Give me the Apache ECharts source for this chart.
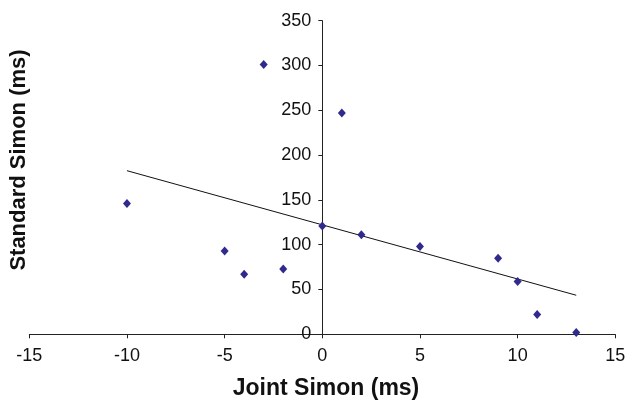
<!DOCTYPE html>
<html>
<head>
<meta charset="utf-8">
<script src="https://cdn.jsdelivr.net/npm/echarts@6/dist/echarts.min.js"></script>
<style>html,body{margin:0;padding:0;background:#fff;}#c{width:630px;height:404px;}</style>
</head>
<body>
<div id="c"></div>
<script>
var jointSimon = [-10, -5, -4, -3, -2, 0, 1, 2, 5, 9, 10, 11, 13];
var standardSimon = [146, 93, 67, 301, 73, 121, 247, 111, 98, 85, 59, 22, 2];
var trendX = [-10, 13];
var trendY = [182.6, 43.6];
var xTicks = [-15, -10, -5, 0, 5, 10, 15];
var yTicks = [0, 50, 100, 150, 200, 250, 300, 350];
var xTitle = 'Joint Simon (ms)';
var yTitle = 'Standard Simon (ms)';

var pts = jointSimon.map(function (x, i) { return [x, standardSimon[i]]; });
var trend = trendX.map(function (x, i) { return [x, trendY[i]]; });

var gridLeft = 29.3, gridRight = 14.7;
var gridW = 630 - gridLeft - gridRight;
var xMin = xTicks[0], xMax = xTicks[xTicks.length - 1];
// place the y axis where x = 0
var yAxisOffset = -gridW * (0 - xMin) / (xMax - xMin);

var chart = echarts.init(document.getElementById('c'), null, {renderer: 'canvas'});
var font = '"Liberation Sans", Arial, sans-serif';
chart.setOption({
  animation: false,
  backgroundColor: '#fff',
  grid: {left: gridLeft, right: gridRight, top: 20.7, bottom: 69.7, containLabel: false, outerBoundsMode: 'none'},
  xAxis: {
    type: 'value', min: xMin, max: xMax, interval: 5,
    axisLine: {onZero: false, lineStyle: {color: '#222', width: 1}},
    axisTick: {show: true, length: 4, lineStyle: {color: '#222'}},
    axisLabel: {fontSize: 18, color: '#111', margin: 13, fontFamily: font},
    splitLine: {show: false}
  },
  yAxis: {
    type: 'value', min: yTicks[0], max: yTicks[yTicks.length - 1], interval: 50,
    position: 'left', offset: yAxisOffset,
    axisLine: {onZero: false, lineStyle: {color: '#222', width: 1}},
    axisTick: {show: true, length: 4, lineStyle: {color: '#222'}},
    axisLabel: {fontSize: 18, color: '#111', margin: 11, fontFamily: font},
    splitLine: {show: false}
  },
  graphic: [
    {type: 'text', position: [326, 389],
     style: {text: xTitle, x: 0, y: 0, fill: '#111', font: 'bold 23px ' + font, textAlign: 'center', textVerticalAlign: 'middle'}},
    {type: 'text', position: [19, 160], rotation: Math.PI / 2,
     style: {text: yTitle, x: 0, y: 0, fill: '#111', font: 'bold 22px ' + font, textAlign: 'center', textVerticalAlign: 'middle'}}
  ],
  series: [
    {type: 'line', data: trend, showSymbol: false, symbol: 'none',
     lineStyle: {color: '#111', width: 1}, silent: true, z: 2},
    {type: 'scatter', data: pts, symbol: 'diamond', symbolSize: [8, 9],
     itemStyle: {color: '#2f2a8c', opacity: 1}, z: 3}
  ]
});
</script>
</body>
</html>
